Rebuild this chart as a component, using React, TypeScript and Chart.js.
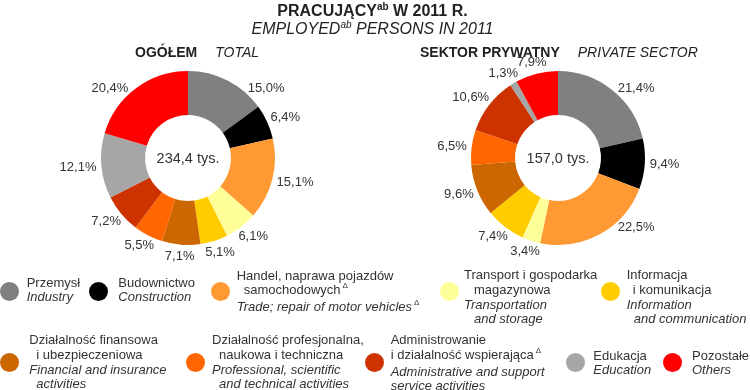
import React, { useEffect, useRef } from "react";
import { Chart, registerables } from "chart.js";

Chart.register(...registerables);

// ---------- DATA ----------
const sectorKeys = [
  "Przemysł",
  "Budownictwo",
  "Handel",
  "Transport",
  "Informacja",
  "Finanse",
  "Profesjonalna",
  "Administrowanie",
  "Edukacja",
  "Pozostałe",
];
const totalShares = [15.0, 6.4, 15.1, 6.1, 5.1, 7.1, 5.5, 7.2, 12.1, 20.4];
const privateShares = [21.4, 9.4, 22.5, 3.4, 7.4, 9.6, 6.5, 10.6, 1.3, 7.9];
const totalCenterLabel = "234,4 tys.";
const privateCenterLabel = "157,0 tys.";
const sectorColors = [
  "#808080",
  "#000000",
  "#FF9933",
  "#FFFF99",
  "#FFCC00",
  "#CC6600",
  "#FF6600",
  "#CC3300",
  "#A6A6A6",
  "#FF0000",
];

// Legend text lines (PL regular, EN italic); ind = indent, d = delta superscript
type Line = { t: string; it?: boolean; ind?: number; d?: boolean };
const legendLines: Line[][] = [
  [{ t: "Przemysł" }, { t: "Industry", it: true }],
  [{ t: "Budownictwo" }, { t: "Construction", it: true }],
  [
    { t: "Handel, naprawa pojazdów" },
    { t: "samochodowych", ind: 7, d: true },
    { t: "Trade; repair of motor vehicles", it: true, d: true },
  ],
  [
    { t: "Transport i gospodarka" },
    { t: "magazynowa", ind: 10 },
    { t: "Transportation", it: true },
    { t: "and storage", it: true, ind: 10 },
  ],
  [
    { t: "Informacja" },
    { t: "i komunikacja", ind: 6 },
    { t: "Information", it: true },
    { t: "and communication", it: true, ind: 7 },
  ],
  [
    { t: "Działalność finansowa" },
    { t: "i ubezpieczeniowa", ind: 7 },
    { t: "Financial and insurance", it: true },
    { t: "activities", it: true, ind: 7 },
  ],
  [
    { t: "Działalność profesjonalna," },
    { t: "naukowa i techniczna", ind: 7 },
    { t: "Professional, scientific", it: true },
    { t: "and technical activities", it: true, ind: 7 },
  ],
  [
    { t: "Administrowanie" },
    { t: "i działalność wspierająca", d: true },
    { t: "Administrative and support", it: true },
    { t: "service activities", it: true },
  ],
  [{ t: "Edukacja" }, { t: "Education", it: true }],
  [{ t: "Pozostałe" }, { t: "Others", it: true }],
];

// ---------- LAYOUT ----------
const legendLayout = [
  { cx: 9.5, cy: 291.7, tx: 26.7, ty: 275.7 },
  { cx: 98.7, cy: 291.7, tx: 118.3, ty: 275.7 },
  { cx: 220.5, cy: 291.7, tx: 236.7, ty: 268.7 },
  { cx: 449.7, cy: 291, tx: 464, ty: 268.4 },
  { cx: 610.3, cy: 291, tx: 626.7, ty: 268.4 },
  { cx: 9.5, cy: 362.3, tx: 29.3, ty: 333.4 },
  { cx: 195.3, cy: 362.3, tx: 212, ty: 333.4 },
  { cx: 374.5, cy: 362.3, tx: 390.7, ty: 333.4 },
  { cx: 575.7, cy: 362.3, tx: 593.3, ty: 348.7 },
  { cx: 672, cy: 362.3, tx: 692, ty: 348.7 },
];

const FONT = "'Liberation Sans', Arial, Helvetica, sans-serif";
const TEXT = "#333333";

const fmt = (v: number) => v.toFixed(1).replace(".", ",") + "%";

const DIAGONALS = [-Math.PI / 4, Math.PI / 4, (3 * Math.PI) / 4, (5 * Math.PI) / 4];

const outsideLabels = {
  id: "outsideLabels",
  afterDatasetsDraw(chart: any, _args: any, opts: any) {
    const ctx = chart.ctx as CanvasRenderingContext2D;
    const meta = chart.getDatasetMeta(0);
    const data = chart.data.datasets[0].data as number[];
    ctx.save();
    ctx.fillStyle = TEXT;
    ctx.textAlign = "center";
    ctx.textBaseline = "middle";
    ctx.font = `13px ${FONT}`;
    let cx = 0,
      cy = 0;
    meta.data.forEach((arc: any, i: number) => {
      const p = arc.getProps(["x", "y", "startAngle", "endAngle", "outerRadius"], true);
      cx = p.x;
      cy = p.y;
      let ang = (p.startAngle + p.endAngle) / 2;
      // large slices spanning a diagonal: label sits at the diagonal (best-fit style)
      const frac = (p.endAngle - p.startAngle) / (2 * Math.PI);
      if (frac >= 0.12) {
        const d = DIAGONALS.find((a) => a > p.startAngle && a < p.endAngle);
        if (d !== undefined) ang = d;
      }
      const dx = Math.cos(ang);
      const dy = Math.sin(ang);
      const text = fmt(data[i]);
      const w = ctx.measureText(text).width;
      const h = 13;
      const r = p.outerRadius + 5;
      const x = p.x + dx * r + (dx * w) / 2;
      const y = p.y + dy * r + (dy * h) / 2;
      ctx.fillText(text, x, y);
    });
    ctx.font = `14.5px ${FONT}`;
    ctx.fillText(opts.centerText, cx, cy + 1);
    ctx.restore();
  },
};

function Doughnut(props: {
  values: number[];
  center: string;
  left: number;
  padLeft: number;
  padRight: number;
}) {
  const ref = useRef<HTMLCanvasElement>(null);
  useEffect(() => {
    if (!ref.current) return;
    const chart = new Chart(ref.current, {
      type: "doughnut",
      data: {
        labels: sectorKeys,
        datasets: [
          {
            data: props.values,
            backgroundColor: sectorColors,
            borderWidth: 0,
          },
        ],
      },
      options: {
        responsive: false,
        maintainAspectRatio: false,
        animation: false,
        radius: 87,
        cutout: "49.4%",
        layout: {
          padding: { left: props.padLeft, right: props.padRight, top: 0, bottom: 4 },
        },
        plugins: {
          legend: { display: false },
          tooltip: { enabled: false },
          outsideLabels: { centerText: props.center },
        } as any,
      } as any,
      plugins: [outsideLabels as any],
    });
    return () => chart.destroy();
  }, []);
  return (
    <canvas
      ref={ref}
      width={375}
      height={320}
      style={{ position: "absolute", left: props.left, top: 0, width: 375, height: 320 }}
    />
  );
}

export default function App() {
  return (
    <div
      style={{
        position: "absolute",
        left: 0,
        top: 0,
        width: 750,
        height: 390,
        overflow: "hidden",
        background: "#ffffff",
        fontFamily: FONT,
        color: TEXT,
      }}
    >
      <Doughnut values={totalShares} center={totalCenterLabel} left={0} padLeft={1} padRight={0} />
      <Doughnut values={privateShares} center={privateCenterLabel} left={375} padLeft={0} padRight={9} />

      {/* Titles */}
      <div
        style={{
          position: "absolute",
          left: 0,
          top: 3.2,
          width: 745,
          textAlign: "center",
          fontSize: 16,
          lineHeight: "16px",
          fontWeight: "bold",
          color: "#222",
          whiteSpace: "nowrap",
        }}
      >
        PRACUJĄCY<span style={{ fontSize: 10, position: "relative", top: -6 }}>ab</span> W 2011 R.
      </div>
      <div
        style={{
          position: "absolute",
          left: 0,
          top: 20.8,
          width: 745,
          textAlign: "center",
          fontSize: 16,
          lineHeight: "16px",
          fontStyle: "italic",
          color: "#222",
          whiteSpace: "nowrap",
        }}
      >
        EMPLOYED<span style={{ fontSize: 10, position: "relative", top: -6 }}>ab</span> PERSONS IN 2011
      </div>
      <div
        style={{
          position: "absolute",
          left: 135,
          top: 44.5,
          fontSize: 14,
          lineHeight: "14px",
          color: "#222",
          whiteSpace: "nowrap",
        }}
      >
        <span style={{ fontWeight: "bold" }}>OGÓŁEM</span>
        <span style={{ fontStyle: "italic", marginLeft: 18 }}>TOTAL</span>
      </div>
      <div
        style={{
          position: "absolute",
          left: 420,
          top: 44.5,
          fontSize: 14,
          lineHeight: "14px",
          color: "#222",
          whiteSpace: "nowrap",
        }}
      >
        <span style={{ fontWeight: "bold" }}>SEKTOR PRYWATNY</span>
        <span style={{ fontStyle: "italic", marginLeft: 18 }}>PRIVATE SECTOR</span>
      </div>

      {/* Legend */}
      {legendLayout.map((L, i) => (
        <React.Fragment key={i}>
          <div
            style={{
              position: "absolute",
              left: L.cx - 9.5,
              top: L.cy - 9.5,
              width: 19,
              height: 19,
              borderRadius: "50%",
              background: sectorColors[i],
            }}
          />
          <div
            style={{
              position: "absolute",
              left: L.tx,
              top: L.ty,
              fontSize: 13,
              lineHeight: "14.6px",
              whiteSpace: "nowrap",
            }}
          >
            {legendLines[i].map((ln, j) => (
              <div key={j} style={{ paddingLeft: ln.ind || 0, fontStyle: ln.it ? "italic" : "normal" }}>
                {ln.t}
                {ln.d ? (
                  <span style={{ fontSize: 8, position: "relative", top: -6, marginLeft: 2, fontStyle: "normal" }}>
                    Δ
                  </span>
                ) : null}
              </div>
            ))}
          </div>
        </React.Fragment>
      ))}
    </div>
  );
}
